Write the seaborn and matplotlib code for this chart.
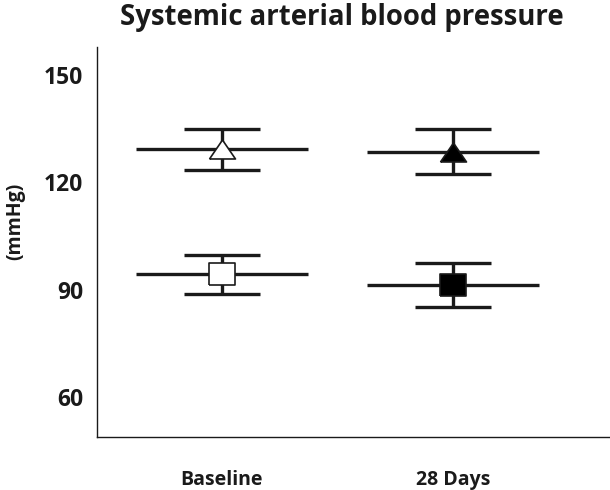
import matplotlib
matplotlib.use("Agg")
import matplotlib.pyplot as plt
import seaborn as sns
import pandas as pd

categories = ["Baseline", "28 Days"]
systolic_mean = [129.3, 128.6]
systolic_err = [5.7, 6.2]
diastolic_mean = [94.3, 91.4]
diastolic_err = [5.5, 6.1]
marker_faces = ["white", "black"]
y_ticks = [60, 90, 120, 150]

sns.set_theme(style="white")
plt.rcParams["font.family"] = ["Open Sans", "DejaVu Sans"]

fig = plt.figure(figsize=(6.1, 4.9), dpi=100)
ax = fig.add_axes([0.159, 0.108, 0.841, 0.796])

x_pos = list(range(len(categories)))
tri = [(-1, -0.73), (1, -0.73), (0, 0.73), (-1, -0.73)]
sq = [(-1, -0.85), (1, -0.85), (1, 0.85), (-1, 0.85), (-1, -0.85)]

lw = 2.4
for means, errs, mk in [(systolic_mean, systolic_err, tri), (diastolic_mean, diastolic_err, sq)]:
    for i, (m, e) in enumerate(zip(means, errs)):
        ax.hlines(m, i - 0.372, i + 0.372, color="#1a1a1a", lw=lw, zorder=2)
        ax.hlines([m - e, m + e], i - 0.165, i + 0.165, color="#1a1a1a", lw=lw, zorder=2)
        ax.vlines(i, m - e, m + e, color="#1a1a1a", lw=lw, zorder=2)
    df = pd.DataFrame({"x": x_pos, "y": means, "cat": categories})
    for i in x_pos:
        sns.scatterplot(data=df.iloc[[i]], x="x", y="y", marker=mk, s=18.7 ** 2,
                        color=marker_faces[i], edgecolor="#1a1a1a", linewidth=1.2,
                        zorder=3, ax=ax, legend=False)

ax.set_xlim(-0.54, 1.68)
ax.set_ylim(48.9, 157.8)
ax.set_xticks(x_pos)
ax.set_xticklabels(categories, fontsize=14, fontweight="bold", color="#1a1a1a")
ax.set_yticks(y_ticks)
ax.set_yticklabels([str(t) for t in y_ticks], fontsize=16.5, fontweight="bold", color="#1a1a1a")
ax.tick_params(axis="x", length=0, pad=24)
ax.tick_params(axis="y", length=0, pad=10)
ax.set_xlabel("")
ax.set_ylabel("")

fig.text(15 / 610, 1 - 221 / 490, "(mmHg)", rotation=90, ha="center", va="center",
         fontsize=14, fontweight="bold", color="#1a1a1a")

for s in ["top", "right"]:
    ax.spines[s].set_visible(False)
for s in ["left", "bottom"]:
    ax.spines[s].set_color("#1a1a1a")
    ax.spines[s].set_linewidth(1.0)

fig.text(341.5 / 610, 0.965, "Systemic arterial blood pressure", ha="center", va="center",
         fontsize=19.8, fontweight="bold", color="#1a1a1a")

fig.savefig("out.png", dpi=100)
